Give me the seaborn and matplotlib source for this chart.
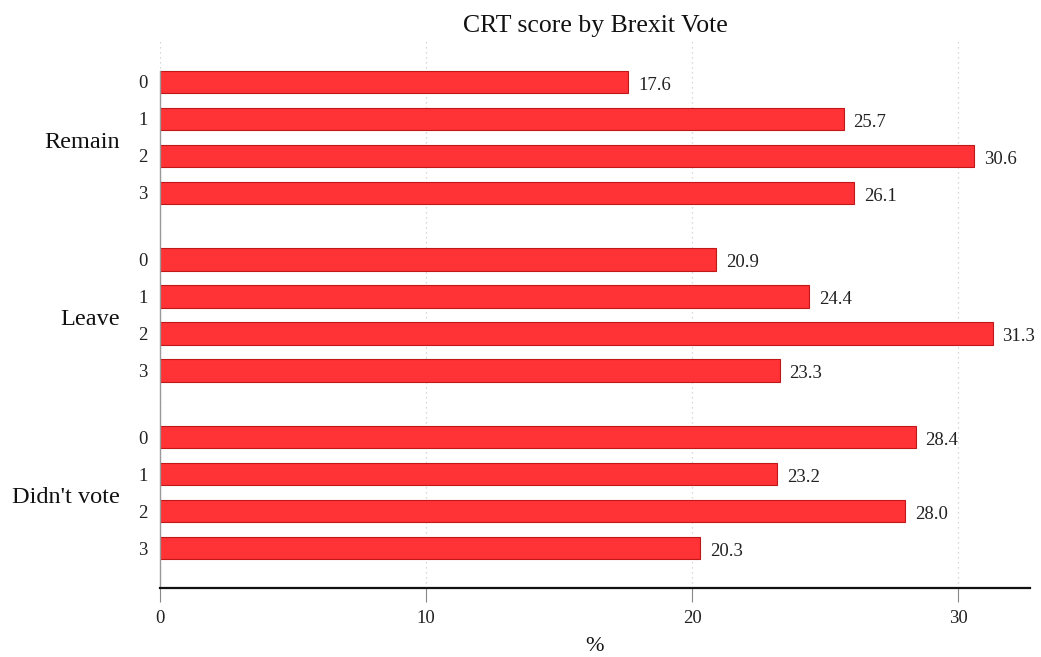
import matplotlib
matplotlib.use("Agg")
import matplotlib.pyplot as plt
import seaborn as sns
import pandas as pd

groups = ["Remain", "Leave", "Didn't vote"]
scores = ["0", "1", "2", "3"]
remain = [17.6, 25.7, 30.6, 26.1]
leave = [20.9, 24.4, 31.3, 23.3]
didnt_vote = [28.4, 23.2, 28.0, 20.3]
x_ticks = [0, 10, 20, 30]

group_gap = 4.8  # slot offset between group starts
rows = []
for gi, (g, vals) in enumerate(zip(groups, [remain, leave, didnt_vote])):
    for si, (s, v) in enumerate(zip(scores, vals)):
        rows.append({"group": g, "score": s, "pct": v, "pos": gi * group_gap + si})
df = pd.DataFrame(rows)

sns.set_theme(style="white")
plt.rcParams["font.family"] = ["Liberation Serif", "DejaVu Serif"]

fig = plt.figure(figsize=(10.41, 6.57), dpi=100)
ax = fig.add_axes([0.1537, 0.105, 0.8357, 0.834])

sns.barplot(data=df, x="pct", y="pos", orient="h", native_scale=True,
            width=0.6, color="#ff3236", edgecolor="#c01818", linewidth=0.8,
            saturation=1, ax=ax, errorbar=None)

ax.set_xlim(0, 32.7)
ax.set_ylim(13.68, -1.13)

for c in ax.containers:
    anns = ax.bar_label(c, fmt="%.1f", padding=7, fontsize=13.5, color="#222222")
    for a in anns:
        a.xyann = (7, -2.5)

# grid
for xt in x_ticks:
    ax.axvline(xt, color="#cccccc", linestyle=(0, (1, 3)), linewidth=0.9, zorder=0)

ax.set_xticks(x_ticks)
ax.set_xticklabels([str(t) for t in x_ticks], fontsize=13.5, color="#222222")
ax.tick_params(axis="x", direction="out", length=10, width=0.8, color="#888888", pad=6, bottom=True)

ax.set_yticks(df["pos"].tolist())
ax.set_yticklabels(df["score"].tolist(), fontsize=13.5, color="#222222")
ax.tick_params(axis="y", length=0, pad=9)

for gi, g in enumerate(groups):
    center = gi * group_gap + 1.5 + 0.13
    ax.text(-0.046, center, g, transform=ax.get_yaxis_transform(), ha="right",
            va="center", fontsize=17.5, color="#111111")

for s in ["top", "right"]:
    ax.spines[s].set_visible(False)
ax.spines["bottom"].set_color("#111111")
ax.spines["bottom"].set_linewidth(1.6)
ax.spines["left"].set_color("#999999")
ax.spines["left"].set_linewidth(1.0)
ax.spines["left"].set_bounds(-0.3, 13.68)

ax.set_xlabel("%", fontsize=16, color="#111111", labelpad=7)
ax.set_ylabel("")
ax.set_title("CRT score by Brexit Vote", fontsize=18.5, color="#111111", pad=6)

fig.savefig("out.png", dpi=100, facecolor="white")
